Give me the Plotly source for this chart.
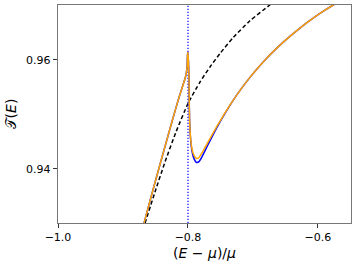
import plotly.graph_objects as go

# Dashed reference curve
dash_x = [-0.86615, -0.85077, -0.83538, -0.81846, -0.79954, -0.78154, -0.76615, -0.75077,
          -0.73031, -0.70462, -0.67646, -0.67077]
dash_y = [0.93004, 0.93578, 0.94128, 0.94679, 0.95211, 0.95596, 0.95872, 0.96119,
          0.96413, 0.96719, 0.96987, 0.97040]

# Orange curve (left branch, spike, right branch)
orange_x = [-0.86769, -0.85538, -0.84308, -0.83231, -0.82262, -0.81385, -0.80769, -0.80385,
            -0.80154, -0.80046, -0.79985,
            -0.79846, -0.79815, -0.79754, -0.79615, -0.79385, -0.79077, -0.78692, -0.78308,
            -0.77846, -0.76923, -0.75585, -0.74308, -0.73031, -0.71738, -0.70462, -0.69185,
            -0.67892, -0.66615, -0.65338, -0.64046, -0.62769, -0.61492, -0.60200, -0.58923,
            -0.57646, -0.56615]
orange_y = [0.93004, 0.93550, 0.94083, 0.94541, 0.94954, 0.95312, 0.95541, 0.95688,
            0.95853, 0.96123, 0.96138,
            0.95633, 0.95266, 0.94899, 0.94587, 0.94367, 0.94248, 0.94193, 0.94211,
            0.94294, 0.94495, 0.94776, 0.95028, 0.95264, 0.95483, 0.95681, 0.95862,
            0.96033, 0.96185, 0.96327, 0.96461, 0.96585, 0.96703, 0.96815, 0.96916,
            0.97009, 0.97083]

# Blue curve (slightly deeper dip)
blue_x = orange_x
blue_y = [0.93004, 0.93550, 0.94083, 0.94541, 0.94954, 0.95312, 0.95541, 0.95688,
          0.95853, 0.96123, 0.96138,
          0.95633, 0.95266, 0.94899, 0.94570, 0.94330, 0.94190, 0.94120, 0.94135,
          0.94225, 0.94445, 0.94755, 0.95020, 0.95264, 0.95483, 0.95681, 0.95862,
          0.96033, 0.96185, 0.96327, 0.96461, 0.96585, 0.96703, 0.96815, 0.96916,
          0.97009, 0.97083]

vline_x = -0.8
x_ticks = [-1.0, -0.8, -0.6]
x_tick_labels = ["\u22121.0", "\u22120.8", "\u22120.6"]
y_ticks = [0.94, 0.96]
y_tick_labels = ["0.94", "0.96"]
x_range = [-1.0, -0.5492]
y_range = [0.93009, 0.97009]

fig = go.Figure()
fig.add_trace(go.Scatter(x=dash_x, y=dash_y, mode="lines",
                         line=dict(color="black", width=1.5, dash="4px,2.5px", shape="spline", smoothing=0.6)))
fig.add_trace(go.Scatter(x=[vline_x, vline_x], y=y_range, mode="lines",
                         line=dict(color="blue", width=1.2, dash="1.2px,1.8px")))
fig.add_trace(go.Scatter(x=blue_x, y=blue_y, mode="lines",
                         line=dict(color="blue", width=1.5, shape="spline", smoothing=0.5)))
fig.add_trace(go.Scatter(x=orange_x, y=orange_y, mode="lines",
                         line=dict(color="orange", width=1.5, shape="spline", smoothing=0.5)))

axis_common = dict(showgrid=False, zeroline=False, showline=True, mirror=True,
                   linecolor="#777", linewidth=1.2, ticks="outside", ticklen=4,
                   tickcolor="#333", tickwidth=1, automargin=False,
                   tickfont=dict(family="DejaVu Sans", size=11, color="black"))

fig.update_layout(
    width=357, height=268,
    margin=dict(l=58, r=6, t=5, b=45),
    paper_bgcolor="white", plot_bgcolor="white",
    showlegend=False,
    font=dict(family="DejaVu Sans", color="black"),
    xaxis=dict(range=x_range, tickvals=x_ticks, ticktext=x_tick_labels,
               title=dict(text="(<i>E</i> \u2212 <i>\u03bc</i>)/<i>\u03bc</i>", font=dict(size=14), standoff=4),
               **axis_common),
    yaxis=dict(range=y_range, tickvals=y_ticks, ticktext=y_tick_labels,
               title=dict(text="\U0001D4AF(<i>E</i>)", font=dict(size=14), standoff=6),
               **axis_common),
)

fig.write_html("out.html", config={"displayModeBar": False, "staticPlot": True},
               post_script="document.body.style.margin='0';document.body.style.overflow='hidden';")
